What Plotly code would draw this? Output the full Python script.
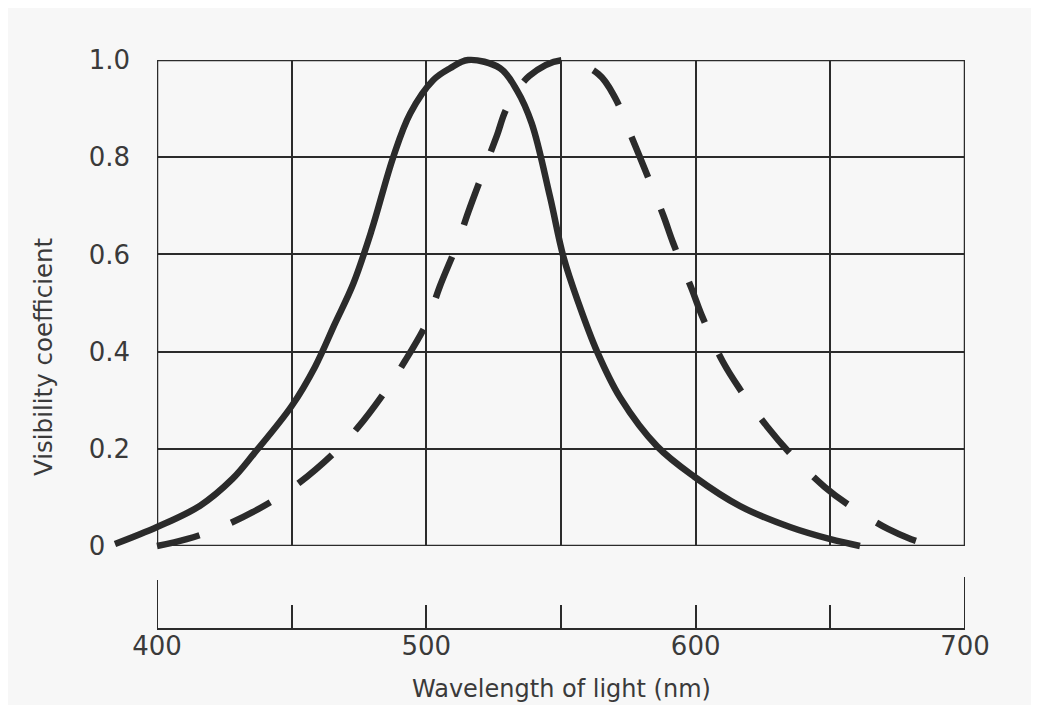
import plotly.graph_objects as go

# ---- data ----
solid_wl = [384.4, 400, 416, 428, 436, 450, 458.7, 466.1, 472.9, 479.7, 487.7, 494, 502.6,
            508.8, 515.5, 527.4, 533.6, 539.1, 545.9, 550.9, 556.5, 563.4, 572, 585.7, 599.4,
            616.5, 635, 650, 661]
solid_v = [0.004, 0.039, 0.083, 0.138, 0.19, 0.288, 0.369, 0.458, 0.54, 0.65, 0.80, 0.89,
           0.959, 0.983, 1.0, 0.983, 0.938, 0.87, 0.719, 0.595, 0.50, 0.40, 0.305, 0.205,
           0.143, 0.082, 0.039, 0.014, 0.0]

dashed_wl = [400, 411, 424, 440.8, 453, 466, 474.6, 484.7, 492, 500.2, 505, 511.8, 515.5, 521,
             526.3, 529.8, 538.2, 551, 563.9, 570.2, 576.4, 581.2, 588, 591.6, 598.6, 602,
             610, 616.5, 626.5, 636, 648, 658, 671.4, 680, 688]
dashed_v = [0.0, 0.014, 0.039, 0.086, 0.131, 0.193, 0.244, 0.318, 0.38, 0.46, 0.534, 0.626,
            0.686, 0.768, 0.846, 0.90, 0.967, 1.0, 0.971, 0.921, 0.839, 0.774, 0.68, 0.624,
            0.528, 0.478, 0.38, 0.322, 0.246, 0.185, 0.121, 0.08, 0.035, 0.014, 0.0]

x_ticks = [400, 450, 500, 550, 600, 650, 700]
x_ticktext = ["400", "", "500", "", "600", "", "700"]
y_ticks = [0, 0.2, 0.4, 0.6, 0.8, 1.0]
# labels are left-aligned in the original; pad the short "0" with no-break spaces
y_ticktext = ["0\u00a0\u00a0\u00a0", "0.2", "0.4", "0.6", "0.8", "1.0"]

# ---- layout geometry (reference pixels; page body adds an 8px offset) ----
OFF = 8
W, H = 1039 - 2 * OFF, 713 - 2 * OFF
AX_Y = 629                  # bottom axis line (reference px)
B = (H + OFF) - AX_Y        # bottom margin
PH = H - B
px_l, px_r = 157, 965       # 400 nm, 700 nm
py_0, py_1 = 546, 60        # y=0, y=1
sx = (px_r - px_l) / 300.0
sy = (py_0 - py_1) / 1.0


def fx(px):
    return (px - OFF) / W


def fy(py):
    return (PH - (py - OFF)) / PH


xr2 = [375, 705]
yr2 = [-0.03, 1.03]
x2_dom = [fx(px_l + (xr2[0] - 400) * sx), fx(px_r + (xr2[1] - 700) * sx)]
y2_dom = [fy(py_0 - yr2[0] * sy), fy(py_1 - (yr2[1] - 1) * sy)]

ink = "#2b2b2b"
txt = "#3a3a3a"
bg = "#f7f7f7"
font = "DejaVu Sans"

fig = go.Figure()
fig.add_trace(go.Scatter(x=[None], y=[None], xaxis="x", yaxis="y", showlegend=False,
                         hoverinfo="skip"))
fig.add_trace(go.Scatter(x=solid_wl, y=solid_v, xaxis="x2", yaxis="y2", mode="lines",
                         line=dict(color=ink, width=6.5, shape="spline", smoothing=1.0),
                         showlegend=False, name="solid"))
fig.add_trace(go.Scatter(x=dashed_wl, y=dashed_v, xaxis="x2", yaxis="y2", mode="lines",
                         line=dict(color=ink, width=6.5, shape="spline", smoothing=1.0,
                                   dash="44px,34px"),
                         showlegend=False, name="dashed"))

shapes = [
    dict(type="rect", xref="x", yref="y", x0=400, x1=700, y0=0, y1=1,
         line=dict(color=ink, width=2.5), layer="below"),
    dict(type="line", xref="x", yref="paper", x0=400, x1=400, y0=0, y1=fy(580),
         line=dict(color=ink, width=2)),
    dict(type="line", xref="x", yref="paper", x0=700, x1=700, y0=0, y1=fy(577),
         line=dict(color=ink, width=2)),
]

fig.update_layout(
    width=W, height=H, autosize=False,
    margin=dict(l=0, r=0, t=0, b=B, pad=0),
    paper_bgcolor=bg, plot_bgcolor="rgba(0,0,0,0)",
    font=dict(family=font, color=txt),
    xaxis=dict(domain=[fx(px_l), fx(px_r)], range=[400, 700], anchor="free", position=0,
               automargin=False,
               showline=True, linecolor=ink, linewidth=2,
               ticks="inside", ticklen=23, tickwidth=2, tickcolor=ink,
               tickvals=x_ticks, ticktext=x_ticktext, tickfont=dict(size=26, color=txt),
               ticklabelstandoff=-6,
               showgrid=True, gridcolor=ink, gridwidth=2, zeroline=False, fixedrange=True),
    yaxis=dict(domain=[fy(py_0), fy(py_1)], range=[0, 1], anchor="x", automargin=False,
               showline=False, ticks="", tickvals=y_ticks, ticktext=y_ticktext,
               tickfont=dict(size=26, color=txt), ticklabelstandoff=26,
               showgrid=True, gridcolor=ink, gridwidth=2, zeroline=False, fixedrange=True),
    xaxis2=dict(domain=x2_dom, range=xr2, anchor="y2", visible=False, fixedrange=True,
                automargin=False),
    yaxis2=dict(domain=y2_dom, range=yr2, anchor="x2", visible=False, fixedrange=True,
                automargin=False),
    shapes=shapes,
    annotations=[
        dict(text="Wavelength of light (nm)", xref="paper", yref="paper",
             x=fx((px_l + px_r) / 2), y=fy(689), xanchor="center", yanchor="middle",
             showarrow=False, font=dict(size=24, color=txt, family=font)),
        dict(text="Visibility coefficient", xref="paper", yref="paper",
             x=fx(43), y=fy(357), xanchor="center", yanchor="middle", textangle=-90,
             showarrow=False, font=dict(size=24.5, color=txt, family=font)),
    ],
)

fig.write_html("out.html")
